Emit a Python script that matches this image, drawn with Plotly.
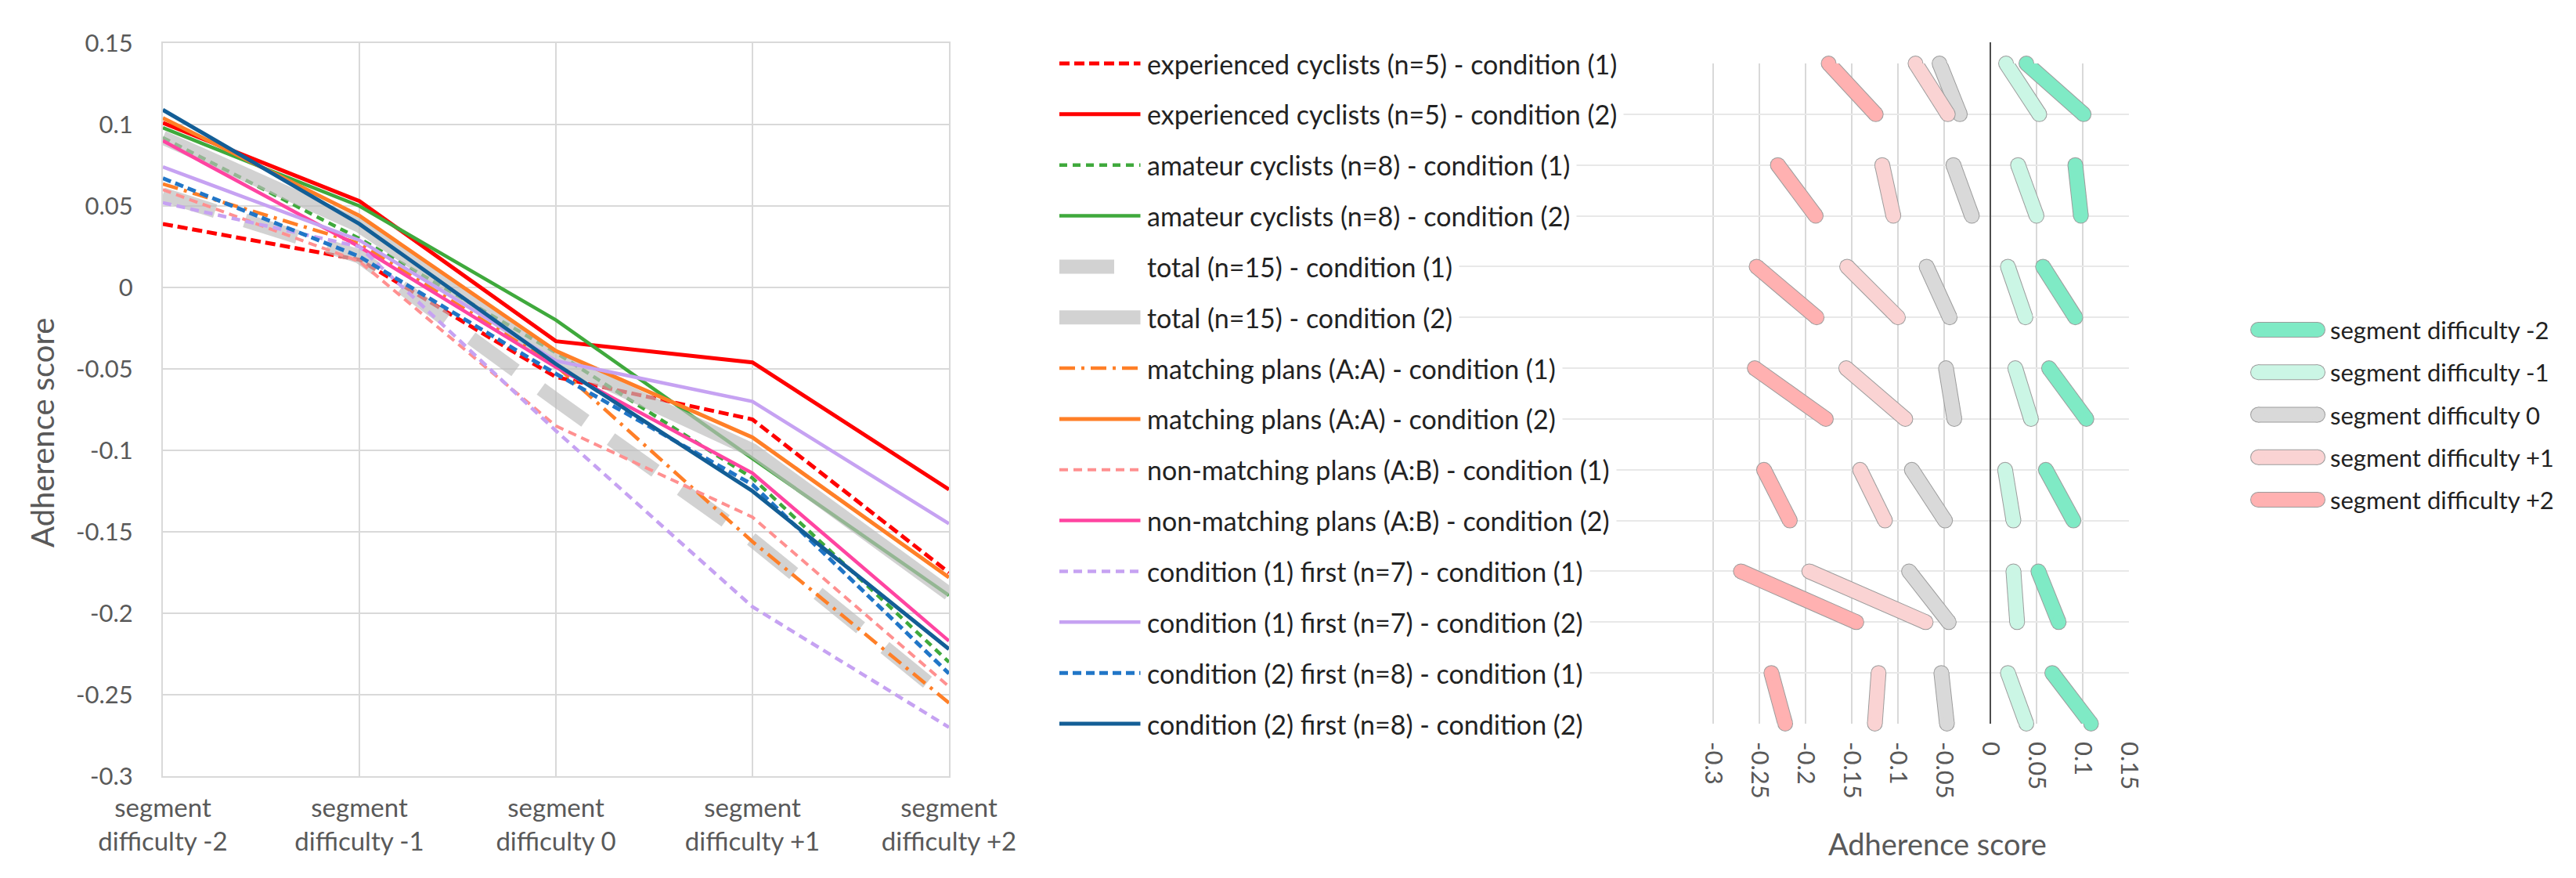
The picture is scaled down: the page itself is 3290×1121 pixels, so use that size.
import plotly.graph_objects as go

# ---------------- data ----------------
categories = ["segment<br>difficulty -2", "segment<br>difficulty -1", "segment<br>difficulty 0",
              "segment<br>difficulty +1", "segment<br>difficulty +2"]
difficulty_labels = ["segment difficulty -2", "segment difficulty -1", "segment difficulty 0",
                     "segment difficulty +1", "segment difficulty +2"]

exp_c1 = [0.039, 0.017, -0.055, -0.081, -0.175]
exp_c2 = [0.101, 0.053, -0.033, -0.046, -0.124]
ama_c1 = [0.092, 0.030, -0.040, -0.117, -0.230]
ama_c2 = [0.098, 0.050, -0.020, -0.105, -0.189]
tot_c1 = [0.057, 0.019, -0.069, -0.155, -0.253]
tot_c2 = [0.092, 0.038, -0.044, -0.100, -0.188]
mat_c1 = [0.0635, 0.027, -0.048, -0.156, -0.255]
mat_c2 = [0.104, 0.044, -0.039, -0.092, -0.178]
non_c1 = [0.060, 0.016, -0.085, -0.141, -0.245]
non_c2 = [0.090, 0.025, -0.049, -0.114, -0.217]
c1f_c1 = [0.052, 0.025, -0.088, -0.196, -0.270]
c1f_c2 = [0.074, 0.029, -0.045, -0.070, -0.145]
c2f_c1 = [0.067, 0.019, -0.053, -0.121, -0.237]
c2f_c2 = [0.109, 0.039, -0.047, -0.125, -0.222]

series_names = [
    "experienced cyclists (n=5) - condition (1)", "experienced cyclists (n=5) - condition (2)",
    "amateur cyclists (n=8) - condition (1)", "amateur cyclists (n=8) - condition (2)",
    "total (n=15) - condition (1)", "total (n=15) - condition (2)",
    "matching plans (A:A) - condition (1)", "matching plans (A:A) - condition (2)",
    "non-matching plans (A:B) - condition (1)", "non-matching plans (A:B) - condition (2)",
    "condition (1) first (n=7) - condition (1)", "condition (1) first (n=7) - condition (2)",
    "condition (2) first (n=8) - condition (1)", "condition (2) first (n=8) - condition (2)",
]
series_values = [exp_c1, exp_c2, ama_c1, ama_c2, tot_c1, tot_c2, mat_c1, mat_c2,
                 non_c1, non_c2, c1f_c1, c1f_c2, c2f_c1, c2f_c2]

y_ticks = [0.15, 0.1, 0.05, 0, -0.05, -0.1, -0.15, -0.2, -0.25, -0.3]
x2_ticks = [-0.3, -0.25, -0.2, -0.15, -0.1, -0.05, 0, 0.05, 0.1, 0.15]

# ---------------- styles ----------------
RED = "#FF0000"
GREEN = "#3FA93C"
GRAY = "rgba(188,188,188,0.68)"
ORANGE = "#FF7F27"
LPINK = "#FF9090"
PINK = "#FF44A1"
LAV = "#C6A2F2"
BLUE = "#2176C7"
DBLUE = "#135E96"
DASH = "13px,6px"
series_styles = [
    dict(color=RED, width=5, dash=DASH), dict(color=RED, width=5, dash="solid"),
    dict(color=GREEN, width=4.5, dash="10px,7px"), dict(color=GREEN, width=4.5, dash="solid"),
    dict(color=GRAY, width=18, dash="70px,40px"), dict(color=GRAY, width=18, dash="solid"),
    dict(color=ORANGE, width=4.5, dash="20px,8px,4px,8px"), dict(color=ORANGE, width=5, dash="solid"),
    dict(color=LPINK, width=4, dash="11px,7px"), dict(color=PINK, width=4.5, dash="solid"),
    dict(color=LAV, width=4.5, dash="11px,7px"), dict(color=LAV, width=4.5, dash="solid"),
    dict(color=BLUE, width=5, dash="11px,6px"), dict(color=DBLUE, width=5, dash="solid"),
]
diff_colors = ["#7FEAC5", "#CBF6E5", "#D9D9D9", "#FAD3D3", "#FFB1B1"]
SEG_OUTLINE = "#9C9C9C"
SEG_W = 18

FONT = "Lato"
TICK_COLOR = "#595959"
TEXT_COLOR = "#222222"
GRID = "#D9D9D9"

W, H = 3290, 1121
def px_x(p):
    return p / W
def px_y(p):
    return 1 - p / H

# pixel layout
L_LEFT, L_RIGHT, L_TOP, L_BOTTOM = 200, 1204, 47, 983
R_TOP, R_BOTTOM = 73, 916
R_LEFT, R_ZERO, R_UNIT, R_RIGHT = 1460, 2534, 1180, 2711
AXIS0_TOP = 46
LEG_S0, LEG_S1, LEG_TEXT = 1345, 1450, 1448
RL_TOP, RL_BOTTOM, RL_S0, RL_S1, RL_TEXT = 413, 630, 2876, 2952, 2966

fig = go.Figure()
cat_idx = list(range(len(categories)))
n_rows = len(series_names)
n_diff = len(difficulty_labels)

# ---------------- left line chart ----------------
for name, vals, st in zip(series_names, series_values, series_styles):
    fig.add_trace(go.Scatter(x=cat_idx, y=vals, mode="lines", name=name, line=st,
                             xaxis="x", yaxis="y", showlegend=False, hoverinfo="skip"))

# ---------------- left legend samples ----------------
for i, st in enumerate(series_styles):
    fig.add_trace(go.Scatter(x=[0, 1], y=[i, i], mode="lines", line=st,
                             xaxis="x3", yaxis="y3", showlegend=False, hoverinfo="skip"))

# ---------------- right slope chart ----------------
groups = [(series_values[2 * g], series_values[2 * g + 1]) for g in range(n_rows // 2)]
for d in range(n_diff):
    xs, ys = [], []
    for g, (c1, c2) in enumerate(groups):
        xs += [c1[d], c2[d], None]
        ys += [2 * g, 2 * g + 1, None]
    fig.add_trace(go.Scatter(x=xs, y=ys, mode="lines+markers", connectgaps=False,
                             line=dict(color=SEG_OUTLINE, width=SEG_W + 2),
                             marker=dict(size=SEG_W + 2, color=SEG_OUTLINE, line=dict(width=0)),
                             xaxis="x2", yaxis="y2", cliponaxis=False, showlegend=False, hoverinfo="skip"))
    fig.add_trace(go.Scatter(x=xs, y=ys, mode="lines+markers", connectgaps=False,
                             line=dict(color=diff_colors[d], width=SEG_W),
                             marker=dict(size=SEG_W, color=diff_colors[d], line=dict(width=0)),
                             xaxis="x2", yaxis="y2", cliponaxis=False, showlegend=False, hoverinfo="skip"))

# ---------------- right legend samples ----------------
for d, col in enumerate(diff_colors):
    fig.add_trace(go.Scatter(x=[0, 1], y=[d, d], mode="lines+markers",
                             line=dict(color=SEG_OUTLINE, width=SEG_W + 2),
                             marker=dict(size=SEG_W + 2, color=SEG_OUTLINE, line=dict(width=0)),
                             xaxis="x4", yaxis="y4", cliponaxis=False, showlegend=False, hoverinfo="skip"))
    fig.add_trace(go.Scatter(x=[0, 1], y=[d, d], mode="lines+markers",
                             line=dict(color=col, width=SEG_W),
                             marker=dict(size=SEG_W, color=col, line=dict(width=0)),
                             xaxis="x4", yaxis="y4", cliponaxis=False, showlegend=False, hoverinfo="skip"))

annotations = []
for i, name in enumerate(series_names):
    annotations.append(dict(text=name, x=px_x(LEG_TEXT), xref="paper", xanchor="left",
                            y=i, yref="y2", yanchor="middle", showarrow=False,
                            bgcolor="white", borderpad=8,
                            font=dict(family=FONT, size=34, color=TEXT_COLOR)))
for d, lab in enumerate(difficulty_labels):
    annotations.append(dict(text=lab, x=px_x(RL_TEXT), xref="paper", xanchor="left",
                            y=d, yref="y4", yanchor="middle", showarrow=False,
                            font=dict(family=FONT, size=31, color=TEXT_COLOR)))
annotations.append(dict(text="Adherence score", x=px_x(46), xref="paper", xanchor="center",
                        y=px_y(545), yref="paper", yanchor="middle", textangle=-90,
                        showarrow=False, font=dict(family=FONT, size=40, color=TICK_COLOR)))
annotations.append(dict(text="Adherence score", x=px_x(2466), xref="paper", xanchor="center",
                        y=px_y(1069), yref="paper", yanchor="middle", showarrow=False,
                        font=dict(family=FONT, size=38, color=TICK_COLOR)))

# vertical axis line of the right chart (at adherence 0), reaching slightly above the first row
shapes = [dict(type="line", xref="x2", yref="paper", x0=0, x1=0,
               y0=px_y(R_BOTTOM), y1=px_y(AXIS0_TOP), line=dict(color="#4D4D4D", width=2),
               layer="above")]

x2_left = (R_LEFT - R_ZERO) / R_UNIT
x2_right = (R_RIGHT - R_ZERO) / R_UNIT
row_px = (R_BOTTOM - R_TOP) / (n_rows - 1)
rl_px = (RL_BOTTOM - RL_TOP) / (n_diff - 1)

numfont = dict(family=FONT, size=31, color=TICK_COLOR)
catfont = dict(family=FONT, size=33, color=TICK_COLOR)
rfont = dict(family=FONT, size=31, color=TICK_COLOR)
fig.update_layout(
    width=W, height=H, margin=dict(l=0, r=0, t=0, b=0),
    paper_bgcolor="white", plot_bgcolor="white", hovermode=False,
    font=dict(family=FONT, color=TICK_COLOR),
    xaxis=dict(domain=[px_x(L_LEFT), px_x(L_RIGHT)], range=[0, len(categories) - 1],
               tickvals=cat_idx, ticktext=categories, tickfont=catfont,
               showgrid=True, gridcolor=GRID, gridwidth=2, showline=True, linecolor=GRID,
               linewidth=2, mirror=True, zeroline=False, ticks="", ticklabelstandoff=10,
               anchor="y", automargin=False, fixedrange=True),
    yaxis=dict(domain=[px_y(L_BOTTOM), px_y(L_TOP)], range=[min(y_ticks), max(y_ticks)],
               tickvals=y_ticks, ticktext=[f"{v:g}" for v in y_ticks], tickfont=numfont,
               showgrid=True, gridcolor=GRID, gridwidth=2, showline=True, linecolor=GRID,
               linewidth=2, mirror=True, zeroline=False, ticks="", ticklabelstandoff=30,
               anchor="x", automargin=False, fixedrange=True),
    xaxis2=dict(domain=[px_x(R_LEFT), px_x(R_RIGHT)], range=[x2_left, x2_right],
                tickvals=x2_ticks, ticktext=[f"{v:g}" for v in x2_ticks], tickangle=90,
                tickfont=rfont, showgrid=True, gridcolor=GRID, gridwidth=1.5,
                zeroline=False, showline=False,
                ticks="", ticklabelstandoff=22, anchor="y2", automargin=False, fixedrange=True),
    yaxis2=dict(domain=[px_y(R_BOTTOM), px_y(R_TOP)], range=[n_rows - 1, 0],
                tickvals=list(range(n_rows)), showticklabels=False, showgrid=True,
                gridcolor="#E8E8E8", gridwidth=1.5, zeroline=False, showline=False,
                anchor="x2", automargin=False, fixedrange=True),
    xaxis3=dict(domain=[px_x(LEG_S0), px_x(LEG_S1)], range=[0, 1], visible=False,
                anchor="y3", fixedrange=True),
    yaxis3=dict(domain=[px_y(R_BOTTOM + row_px / 2), px_y(R_TOP - row_px / 2)],
                range=[n_rows - 0.5, -0.5], visible=False, anchor="x3", fixedrange=True),
    xaxis4=dict(domain=[px_x(RL_S0), px_x(RL_S1)], range=[0, 1], visible=False,
                anchor="y4", fixedrange=True),
    yaxis4=dict(domain=[px_y(RL_BOTTOM + rl_px / 2), px_y(RL_TOP - rl_px / 2)],
                range=[n_diff - 0.5, -0.5], visible=False, anchor="x4", fixedrange=True),
    annotations=annotations,
    shapes=shapes,
)

fig.write_html("out.html")
